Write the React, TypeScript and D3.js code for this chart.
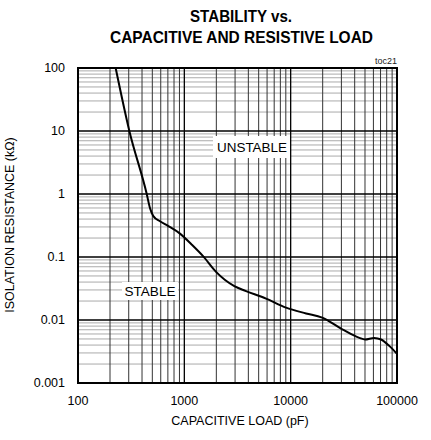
import React from "react";
import * as d3 from "d3";

const capacitance = [226, 304, 443, 475, 511, 590, 707, 910, 1170, 1500, 1988, 2953, 3806, 5870, 9040, 13960, 19800, 30600, 44300, 50000, 61000, 70800, 85000, 100000];
const resistance = [100, 10, 1.0, 0.6, 0.446, 0.37, 0.31, 0.235, 0.158, 0.103, 0.058, 0.0344, 0.0288, 0.0218, 0.0157, 0.0127, 0.0109, 0.0071, 0.0052, 0.0049, 0.0052, 0.0049, 0.00385, 0.0029];
const xTicks = [100, 1000, 10000, 100000];
const yTicks = [0.001, 0.01, 0.1, 1, 10, 100];
const xTickLabels = ["100", "1000", "10000", "100000"];
const yTickLabels = ["0.001", "0.01", "0.1", "1", "10", "100"];

const W = 431, H = 440;
const L = 78, R = 397, T = 68, B = 383;

export default function App() {
  const x = d3.scaleLog().domain([100, 100000]).range([L, R]);
  const y = d3.scaleLog().domain([0.001, 100]).range([B, T]);
  const xMinor: number[] = [];
  for (let d = 100; d < 100000; d *= 10) for (let k = 2; k <= 9; k++) xMinor.push(d * k);
  const yMinor: number[] = [];
  for (let d = 0.001; d < 99; d *= 10) for (let k = 2; k <= 9; k++) yMinor.push(d * k);
  const pts = capacitance.map((c, i) => [c, resistance[i]] as [number, number]);
  const line = d3.line<[number, number]>().x(d => x(d[0])).y(d => y(d[1])).curve(d3.curveMonotoneX);
  const font = "'Liberation Sans', Arial, sans-serif";
  return (
    <svg width={W} height={H} style={{ position: "absolute", left: 0, top: 0, background: "#fff" }} fontFamily={font}>
      <text x={241} y={22} textAnchor="middle" fontSize={16.5} fontWeight="bold" textLength={102} lengthAdjust="spacingAndGlyphs">STABILITY vs.</text>
      <text x={241.5} y={43} textAnchor="middle" fontSize={16.5} fontWeight="bold" textLength={263} lengthAdjust="spacingAndGlyphs">CAPACITIVE AND RESISTIVE LOAD</text>
      <text x={397} y={64} textAnchor="end" fontSize={9} fill="#222">toc21</text>
      {yMinor.map((v, i) => (
        <line key={"ym" + i} x1={L} x2={R} y1={y(v)} y2={y(v)} stroke="#aaa" strokeWidth={1} />
      ))}
      {xMinor.map((v, i) => (
        <line key={"xm" + i} x1={x(v)} x2={x(v)} y1={T} y2={B} stroke="#333" strokeWidth={1} />
      ))}
      {yTicks.map((v, i) => (
        <line key={"yM" + i} x1={L} x2={R} y1={y(v)} y2={y(v)} stroke="#000" strokeWidth={1.3} />
      ))}
      {xTicks.map((v, i) => (
        <line key={"xM" + i} x1={x(v)} x2={x(v)} y1={T} y2={B} stroke="#000" strokeWidth={1.3} />
      ))}
      <rect x={213} y={136} width={77} height={22} fill="#fff" />
      <text x={252} y={152} textAnchor="middle" fontSize={13.5} textLength={70} lengthAdjust="spacingAndGlyphs">UNSTABLE</text>
      <rect x={122} y={282} width={56} height={18} fill="#fff" />
      <text x={150} y={296} textAnchor="middle" fontSize={13.5} textLength={51} lengthAdjust="spacingAndGlyphs">STABLE</text>
      <path d={line(pts) || ""} fill="none" stroke="#000" strokeWidth={2} />
      <rect x={L} y={T} width={R - L} height={B - T} fill="none" stroke="#000" strokeWidth={2} />
      {xTicks.map((v, i) => (
        <text key={"xl" + i} x={x(v)} y={405} textAnchor="middle" fontSize={12.5}>{xTickLabels[i]}</text>
      ))}
      {yTicks.map((v, i) => (
        <text key={"yl" + i} x={65} y={y(v) + 4} textAnchor="end" fontSize={12.5}>{yTickLabels[i]}</text>
      ))}
      <text x={240} y={425} textAnchor="middle" fontSize={12.5}>CAPACITIVE LOAD (pF)</text>
      <text transform="translate(14,225) rotate(-90)" textAnchor="middle" fontSize={12.5}>ISOLATION RESISTANCE (kΩ)</text>
    </svg>
  );
}
